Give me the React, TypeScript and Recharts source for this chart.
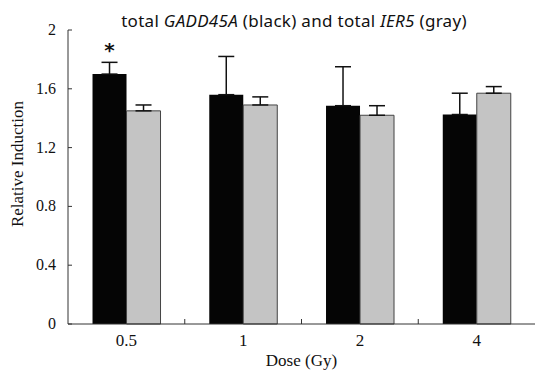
import { BarChart, Bar, XAxis, YAxis, ErrorBar, LabelList } from "recharts";

const doses = ["0.5", "1", "2", "4"];
const gadd45a = [1.7, 1.56, 1.485, 1.425];
const gadd45aErr = [0.08, 0.26, 0.265, 0.145];
const ier5 = [1.45, 1.49, 1.42, 1.57];
const ier5Err = [0.04, 0.055, 0.065, 0.045];
const marks = ["*", "", "", ""];
const yTicks = [0, 0.4, 0.8, 1.2, 1.6, 2];

const W = 535;
const H = 372;
const Y_AXIS_W = 68;
const X_AXIS_H = 48;
const serif = "'Liberation Serif', 'Times New Roman', serif";

const data = doses.map((d, i) => ({
  dose: d,
  gadd: gadd45a[i],
  gaddErr: [0, gadd45aErr[i]],
  ier: ier5[i],
  ierErr: [0, ier5Err[i]],
  mark: marks[i],
}));

const band = (W - Y_AXIS_W) / doses.length;

const YTick = ({ x, y, payload }: any) => (
  <g>
    <line x1={x + 12} x2={x + 16} y1={y} y2={y} stroke="#333" strokeWidth={1} />
    <text x={x} y={y} dy={5} textAnchor="end" fontFamily={serif} fontSize={16} fill="#111">
      {payload.value}
    </text>
  </g>
);

const XTick = ({ x, y, payload, index }: any) => (
  <g>
    {index < doses.length - 1 && (
      <line x1={x + band / 2} x2={x + band / 2} y1={y - 9} y2={y - 14} stroke="#333" strokeWidth={1} />
    )}
    <text x={x} y={y} dy={13} textAnchor="middle" fontFamily={serif} fontSize={17} fill="#111">
      {payload.value}
    </text>
  </g>
);

export default function App() {
  return (
    <div style={{ position: "absolute", left: 0, top: 0, width: W, height: H, background: "#fff" }}>
      <div
        style={{
          position: "absolute",
          top: 11,
          left: 0,
          width: 588,
          textAlign: "center",
          fontFamily: "'Noto Sans', 'Open Sans', sans-serif",
          fontSize: 17,
          letterSpacing: "0.3px",
          color: "#111",
          lineHeight: "20px",
          whiteSpace: "nowrap",
        }}
      >
        total <i>GADD45A</i> (black) and total <i>IER5</i> (gray)
      </div>
      <BarChart
        width={W}
        height={H}
        data={data}
        margin={{ top: 30, right: 0, bottom: 0, left: 0 }}
        barCategoryGap="21%"
        barGap={0}
      >
        <XAxis
          dataKey="dose"
          height={X_AXIS_H}
          tickSize={0}
          tickMargin={9}
          tickLine={false}
          axisLine={{ stroke: "#333", strokeWidth: 1 }}
          tick={<XTick />}
          interval={0}
          label={{
            value: "Dose (Gy)",
            position: "insideBottom",
            offset: 6,
            fontFamily: serif,
            fontSize: 17,
            fill: "#111",
          }}
        />
        <YAxis
          width={Y_AXIS_W}
          domain={[0, 2]}
          ticks={yTicks}
          interval={0}
          tickSize={0}
          tickMargin={12}
          tickLine={false}
          axisLine={{ stroke: "#333", strokeWidth: 1 }}
          tick={<YTick />}
          label={{
            content: ({ viewBox }: any) => (
              <text
                x={viewBox.x + 23}
                y={viewBox.y + viewBox.height / 2 - 13}
                transform={`rotate(-90, ${viewBox.x + 23}, ${viewBox.y + viewBox.height / 2 - 13})`}
                textAnchor="middle"
                fontFamily={serif}
                fontSize={17}
                fill="#111"
              >
                Relative Induction
              </text>
            ),
          }}
        />
        <Bar dataKey="gadd" fill="#050505" isAnimationActive={false}>
          <ErrorBar dataKey="gaddErr" width={8} stroke="#111" strokeWidth={1.5} direction="y" />
          <LabelList
            dataKey="mark"
            position="top"
            offset={17}
            fontFamily="'DejaVu Sans', sans-serif"
            fontSize={20}
            fontWeight="bold"
            fill="#111"
          />
        </Bar>
        <Bar dataKey="ier" fill="#c4c4c4" stroke="#444" strokeWidth={1} isAnimationActive={false}>
          <ErrorBar dataKey="ierErr" width={8} stroke="#111" strokeWidth={1.5} direction="y" />
        </Bar>
      </BarChart>
    </div>
  );
}
